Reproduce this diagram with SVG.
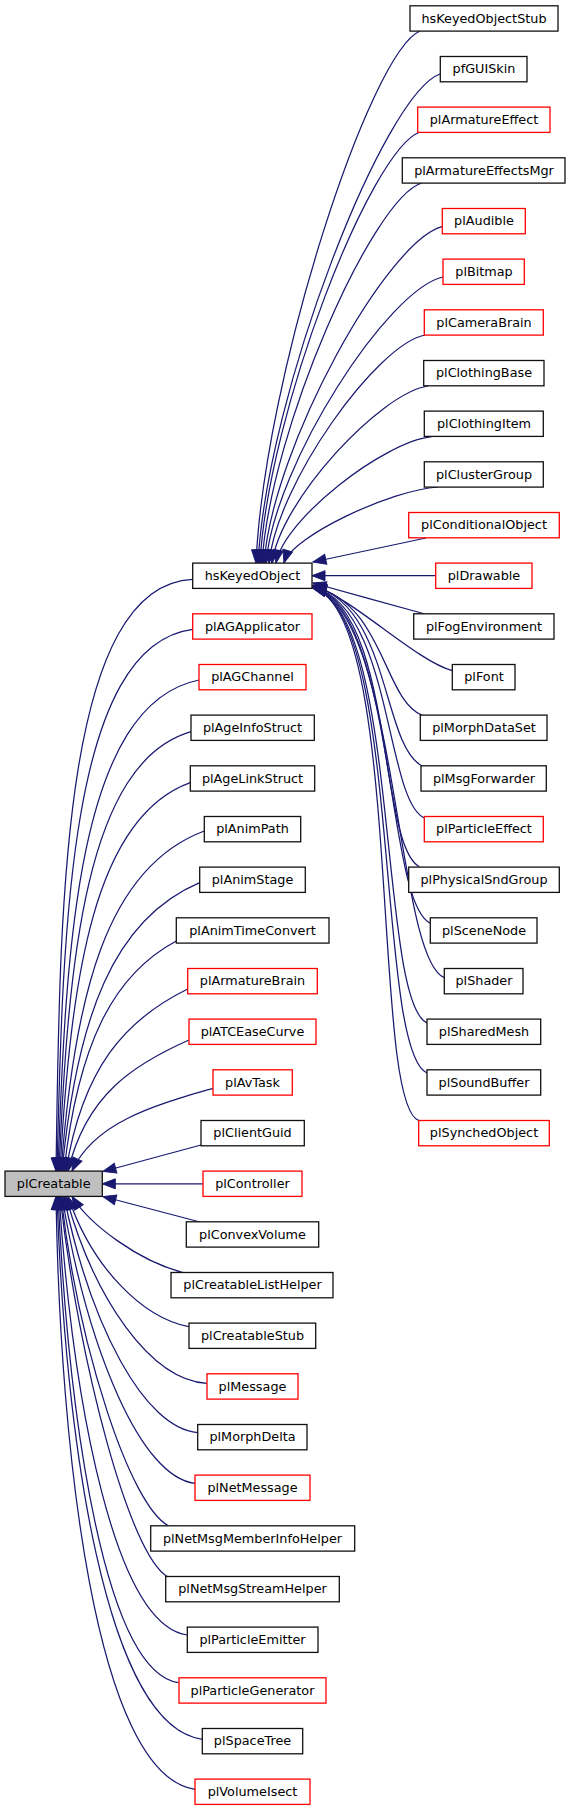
<svg xmlns="http://www.w3.org/2000/svg" width="571" height="1811" viewBox="0 0 571 1811">
<style>
.n rect{fill:#fff;stroke:#111;stroke-width:1.3}
.n.r rect{stroke:#ff0000}
.n.g rect{fill:#bfbfbf}
.n text{font-family:"DejaVu Sans","Liberation Sans",sans-serif;font-size:12.8px;fill:#000;text-anchor:middle}
.e path{fill:none;stroke:#191970;stroke-width:1.25;marker-end:url(#ah)}
</style>
<defs>
<marker id="ah" markerUnits="userSpaceOnUse" markerWidth="14" markerHeight="11" refX="13" refY="5" orient="auto" overflow="visible">
<path d="M0,0 L13,5 L0,10 Z" fill="#191970" stroke="#191970" stroke-width="1"/>
</marker>
</defs>
<rect width="571" height="1811" fill="#fff"/>
<g id="edges" class="e">
<path d="M420,31 C369.6,52.3 264.4,376.8 256,563"/>
<path d="M440,74 C384.2,93.6 267.3,391.8 258,563"/>
<path d="M420,132 C370.8,149.2 268.2,412.1 260,563"/>
<path d="M421.7,183 C372.6,198.2 270.2,430 262,563"/>
<path d="M442.3,226.7 C387.6,240.2 273.1,445.3 264,563"/>
<path d="M443,277 C388.7,288.4 275,462.9 266,563"/>
<path d="M425,335 C377,344.1 277,483.2 269,563"/>
<path d="M428,386 C380,393.1 280,501 272,563"/>
<path d="M431.7,436.7 C383.8,441.8 284,518.8 276,563"/>
<path d="M438,487 C390.6,490 291.9,536.4 284,563"/>
<path d="M426,538 L313,562"/>
<path d="M435.7,575.7 L312,575.7"/>
<path d="M425,614 C395,606 345,592 313,583"/>
<path d="M452.3,670.7 C415,660 355,600 313,585"/>
<path d="M422.7,715.7 C383,700 385,605 313,586"/>
<path d="M421.7,765.7 C382,745 390,606 313,586"/>
<path d="M424.3,818 C385,800 392,607 313,587"/>
<path d="M419.3,866.7 C378,845 394,608 313,587"/>
<path d="M430.7,923.3 C385,905 396,609 313,587"/>
<path d="M444.3,977.7 C395,958 398,610 313,588"/>
<path d="M427,1023 C378,1000 400,611 313,588"/>
<path d="M427,1073 C375,1050 402,612 313,588"/>
<path d="M419,1120.7 C370,1105 404,613 313,588"/>
<path d="M192.7,579.3 C60.1,585.3 60,916.6 56,1171"/>
<path d="M192.7,629.3 C68.7,645.4 62.75,929 57,1171"/>
<path d="M199,680 C78.2,704.3 65.7,943.3 58,1171"/>
<path d="M191,731.7 C85.5,762.3 68.1,959.7 59,1171"/>
<path d="M190.3,782.7 C93.6,817.4 70.7,977.6 60,1171"/>
<path d="M204.3,831 C105.7,867.7 74.35,996.2 61,1171"/>
<path d="M199.7,882.7 C112.9,919.5 76.8,1017.9 62,1171"/>
<path d="M176.3,941 C112.9,974.9 78,1044.3 64,1171"/>
<path d="M187.7,989 C125.5,1019.5 82.5,1067.8 66,1171"/>
<path d="M189,1040 C134.1,1064.3 85.9,1094.5 68,1171"/>
<path d="M213,1088.3 C156.6,1104.8 94.6,1121.4 72,1171"/>
<path d="M201,1145 L103,1171.5"/>
<path d="M203,1183.8 L102.3,1183.8"/>
<path d="M200,1222 L103,1196.5"/>
<path d="M183,1272.5 C138.6,1261 90,1225 72,1196.5"/>
<path d="M188.7,1326.7 C143,1318 92.1,1268.1 68,1196.5"/>
<path d="M206.7,1383.3 C150.4,1379.6 94.1,1299.2 66,1196.5"/>
<path d="M197.7,1432.7 C144.2,1428 90.7,1326.4 64,1196.5"/>
<path d="M195,1483.3 C141.8,1477.6 88.6,1354.2 62,1196.5"/>
<path d="M168.3,1525.7 C130,1505 79,1350 61,1196.5"/>
<path d="M167.7,1576.7 C129.7,1555.7 79,1363.7 60,1196.5"/>
<path d="M187.3,1635 C115.7,1625.1 73.9,1411.6 59,1196.5"/>
<path d="M178.3,1682.7 C105.2,1671.4 69,1425.9 58,1196.5"/>
<path d="M202.3,1739.3 C105.3,1726.2 65.1,1440.5 57,1196.5"/>
<path d="M195,1789.3 C95,1775 60,1450 56,1196.5"/>
</g>
<g id="hsKeyedObjectStub" class="n"><rect x="410" y="5.8" width="148" height="25.3"/><text x="484" y="22.6">hsKeyedObjectStub</text></g>
<g id="pfGUISkin" class="n"><rect x="440.3" y="56.5" width="86.7" height="25.3"/><text x="484" y="73.3">pfGUISkin</text></g>
<g id="plArmatureEffect" class="n r"><rect x="417.7" y="107.1" width="132.3" height="25.3"/><text x="484" y="123.9">plArmatureEffect</text></g>
<g id="plArmatureEffectsMgr" class="n"><rect x="402.3" y="157.8" width="162.7" height="25.3"/><text x="484" y="174.6">plArmatureEffectsMgr</text></g>
<g id="plAudible" class="n r"><rect x="442.3" y="208.5" width="83" height="25.3"/><text x="484" y="225.3">plAudible</text></g>
<g id="plBitmap" class="n r"><rect x="443" y="259.1" width="81.3" height="25.3"/><text x="484" y="275.9">plBitmap</text></g>
<g id="plCameraBrain" class="n r"><rect x="424.3" y="309.8" width="119" height="25.3"/><text x="484" y="326.6">plCameraBrain</text></g>
<g id="plClothingBase" class="n"><rect x="423.7" y="360.5" width="120.3" height="25.3"/><text x="484" y="377.3">plClothingBase</text></g>
<g id="plClothingItem" class="n"><rect x="424.3" y="411.1" width="119" height="25.3"/><text x="484" y="427.9">plClothingItem</text></g>
<g id="plClusterGroup" class="n"><rect x="424.3" y="461.8" width="119" height="25.3"/><text x="484" y="478.6">plClusterGroup</text></g>
<g id="plConditionalObject" class="n r"><rect x="408.7" y="512.5" width="150.6" height="25.3"/><text x="484" y="529.3">plConditionalObject</text></g>
<g id="plDrawable" class="n r"><rect x="435.7" y="563.1" width="96.3" height="25.3"/><text x="484" y="579.9">plDrawable</text></g>
<g id="plFogEnvironment" class="n"><rect x="413.7" y="613.8" width="140.3" height="25.3"/><text x="484" y="630.6">plFogEnvironment</text></g>
<g id="plFont" class="n"><rect x="452.3" y="664.5" width="62.7" height="25.3"/><text x="484" y="681.3">plFont</text></g>
<g id="plMorphDataSet" class="n"><rect x="420.3" y="715.1" width="126.7" height="25.3"/><text x="484" y="731.9">plMorphDataSet</text></g>
<g id="plMsgForwarder" class="n"><rect x="421" y="765.8" width="125.3" height="25.3"/><text x="484" y="782.6">plMsgForwarder</text></g>
<g id="plParticleEffect" class="n r"><rect x="424.3" y="816.5" width="119" height="25.3"/><text x="484" y="833.3">plParticleEffect</text></g>
<g id="plPhysicalSndGroup" class="n"><rect x="408.7" y="867.1" width="150.6" height="25.3"/><text x="484" y="883.9">plPhysicalSndGroup</text></g>
<g id="plSceneNode" class="n"><rect x="430.3" y="917.8" width="106.7" height="25.3"/><text x="484" y="934.6">plSceneNode</text></g>
<g id="plShader" class="n"><rect x="444.3" y="968.5" width="78.7" height="25.3"/><text x="484" y="985.3">plShader</text></g>
<g id="plSharedMesh" class="n"><rect x="427" y="1019.1" width="113.7" height="25.3"/><text x="484" y="1035.9">plSharedMesh</text></g>
<g id="plSoundBuffer" class="n"><rect x="427" y="1069.8" width="113.7" height="25.3"/><text x="484" y="1086.6">plSoundBuffer</text></g>
<g id="plSynchedObject" class="n r"><rect x="418.7" y="1120.5" width="130.6" height="25.3"/><text x="484" y="1137.3">plSynchedObject</text></g>
<g id="hsKeyedObject" class="n"><rect x="192.7" y="563.1" width="119.3" height="25.3"/><text x="252.5" y="579.9">hsKeyedObject</text></g>
<g id="plAGApplicator" class="n r"><rect x="192.7" y="613.8" width="119.3" height="25.3"/><text x="252.5" y="630.6">plAGApplicator</text></g>
<g id="plAGChannel" class="n r"><rect x="199" y="664.5" width="107" height="25.3"/><text x="252.5" y="681.3">plAGChannel</text></g>
<g id="plAgeInfoStruct" class="n"><rect x="191" y="715.1" width="123.3" height="25.3"/><text x="252.5" y="731.9">plAgeInfoStruct</text></g>
<g id="plAgeLinkStruct" class="n"><rect x="190.3" y="765.8" width="124.4" height="25.3"/><text x="252.5" y="782.6">plAgeLinkStruct</text></g>
<g id="plAnimPath" class="n"><rect x="204.3" y="816.5" width="96.4" height="25.3"/><text x="252.5" y="833.3">plAnimPath</text></g>
<g id="plAnimStage" class="n"><rect x="199.7" y="867.1" width="105.6" height="25.3"/><text x="252.5" y="883.9">plAnimStage</text></g>
<g id="plAnimTimeConvert" class="n"><rect x="176.3" y="917.8" width="152.7" height="25.3"/><text x="252.5" y="934.6">plAnimTimeConvert</text></g>
<g id="plArmatureBrain" class="n r"><rect x="187.7" y="968.5" width="129.6" height="25.3"/><text x="252.5" y="985.3">plArmatureBrain</text></g>
<g id="plATCEaseCurve" class="n r"><rect x="189" y="1019.1" width="127" height="25.3"/><text x="252.5" y="1035.9">plATCEaseCurve</text></g>
<g id="plAvTask" class="n r"><rect x="213" y="1069.8" width="79.3" height="25.3"/><text x="252.5" y="1086.6">plAvTask</text></g>
<g id="plClientGuid" class="n"><rect x="201" y="1120.5" width="103.3" height="25.3"/><text x="252.5" y="1137.3">plClientGuid</text></g>
<g id="plController" class="n r"><rect x="203" y="1171.1" width="99" height="25.3"/><text x="252.5" y="1187.9">plController</text></g>
<g id="plConvexVolume" class="n"><rect x="186.3" y="1221.8" width="132.4" height="25.3"/><text x="252.5" y="1238.6">plConvexVolume</text></g>
<g id="plCreatableListHelper" class="n"><rect x="171" y="1272.5" width="162" height="25.3"/><text x="252.5" y="1289.3">plCreatableListHelper</text></g>
<g id="plCreatableStub" class="n"><rect x="189" y="1323.1" width="126.7" height="25.3"/><text x="252.5" y="1339.9">plCreatableStub</text></g>
<g id="plMessage" class="n r"><rect x="207" y="1373.8" width="91" height="25.3"/><text x="252.5" y="1390.6">plMessage</text></g>
<g id="plMorphDelta" class="n"><rect x="197.7" y="1424.5" width="109.3" height="25.3"/><text x="252.5" y="1441.3">plMorphDelta</text></g>
<g id="plNetMessage" class="n r"><rect x="195" y="1475.1" width="115" height="25.3"/><text x="252.5" y="1491.9">plNetMessage</text></g>
<g id="plNetMsgMemberInfoHelper" class="n"><rect x="150.7" y="1525.8" width="204" height="25.3"/><text x="252.5" y="1542.6">plNetMsgMemberInfoHelper</text></g>
<g id="plNetMsgStreamHelper" class="n"><rect x="165.7" y="1576.5" width="173.6" height="25.3"/><text x="252.5" y="1593.3">plNetMsgStreamHelper</text></g>
<g id="plParticleEmitter" class="n"><rect x="187.3" y="1627.1" width="130.7" height="25.3"/><text x="252.5" y="1643.9">plParticleEmitter</text></g>
<g id="plParticleGenerator" class="n r"><rect x="179" y="1677.8" width="147" height="25.3"/><text x="252.5" y="1694.6">plParticleGenerator</text></g>
<g id="plSpaceTree" class="n"><rect x="202.3" y="1728.5" width="100.4" height="25.3"/><text x="252.5" y="1745.3">plSpaceTree</text></g>
<g id="plVolumeIsect" class="n r"><rect x="195" y="1779.1" width="115" height="25.3"/><text x="252.5" y="1795.9">plVolumeIsect</text></g>
<g id="plCreatable" class="n g"><rect x="5" y="1171.1" width="97.3" height="25.3"/><text x="53.7" y="1187.9">plCreatable</text></g>
</svg>
